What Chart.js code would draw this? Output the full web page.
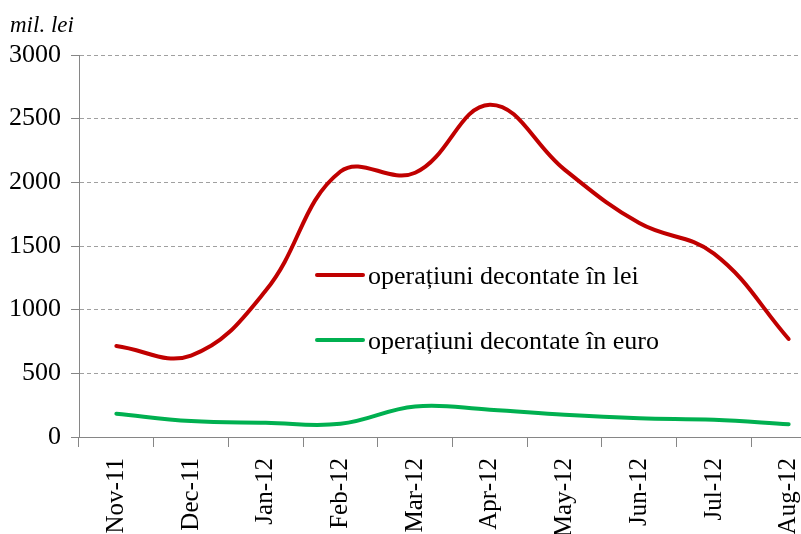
<!DOCTYPE html>
<html>
<head>
<meta charset="utf-8">
<script src="https://cdn.jsdelivr.net/npm/chart.js@4"></script>
<style>
  html, body { margin: 0; padding: 0; background: #fff; overflow: hidden; }
  #wrap { width: 830px; height: 534px; }
</style>
</head>
<body>
<div id="wrap"><canvas id="myChart" width="830" height="534"></canvas></div>
<script>
const ctx = document.getElementById('myChart');

// luni
const labels = ['Nov-11', 'Dec-11', 'Jan-12', 'Feb-12', 'Mar-12', 'Apr-12', 'May-12', 'Jun-12', 'Jul-12', 'Aug-12'];
// mil. lei
const lei = [715, 640, 1150, 2085, 2075, 2610, 2100, 1680, 1440, 770];
const euro = [183, 125, 112, 104, 240, 214, 175, 148, 135, 101];
const seriesNames = ['operațiuni decontate în lei', 'operațiuni decontate în euro'];
const yTicks = [0, 500, 1000, 1500, 2000, 2500, 3000];

const serif = 'Liberation Serif, Times New Roman, serif';

// legenda desenata in interiorul graficului
const insideLegend = {
    id: 'insideLegend',
    afterDraw(chart) {
        const c = chart.ctx;
        const ds = chart.data.datasets;
        const x0 = chart.chartArea.left + 238;
        const y0 = chart.chartArea.top + 220;
        c.save();
        c.font = '26px ' + serif;
        c.textBaseline = 'middle';
        c.textAlign = 'left';
        ds.forEach((d, i) => {
            const y = y0 + i * 65;
            c.strokeStyle = d.borderColor;
            c.lineWidth = 4;
            c.lineCap = 'round';
            c.beginPath();
            c.moveTo(x0, y);
            c.lineTo(x0 + 46, y);
            c.stroke();
            c.fillStyle = '#000';
            c.fillText(d.label, x0 + 51, y + 2);
        });
        c.restore();
    }
};

const data = {
    labels,
    datasets: [{
        label: seriesNames[0],
        data: lei,
        borderColor: '#c00000',
        backgroundColor: '#c00000',
        borderWidth: 4,
        tension: 0.4,
        pointRadius: 0,
        borderCapStyle: 'round'
    }, {
        label: seriesNames[1],
        data: euro,
        borderColor: '#00b050',
        backgroundColor: '#00b050',
        borderWidth: 4,
        tension: 0.4,
        pointRadius: 0,
        borderCapStyle: 'round'
    }]
};

const config = {
    type: 'line',
    data: data,
    options: {
        responsive: false,
        animation: false,
        layout: { padding: { left: 10, right: 4, top: 0, bottom: 0 } },
        plugins: {
            legend: { display: false },
            tooltip: { enabled: false },
            title: {
                display: true,
                text: 'mil. lei',
                align: 'start',
                color: '#000',
                font: { family: serif, size: 23, style: 'italic', weight: 'normal', lineHeight: 1.2 },
                padding: { top: 12, bottom: 15.4 }
            }
        },
        scales: {
            x: {
                offset: true,
                grid: {
                    offset: true,
                    drawOnChartArea: false,
                    drawTicks: true,
                    tickLength: 10,
                    tickColor: '#868686',
                    tickWidth: 1
                },
                border: { color: '#868686', width: 1 },
                ticks: {
                    color: '#000',
                    font: { family: serif, size: 25 },
                    minRotation: 90,
                    maxRotation: 90,
                    padding: 11,
                    autoSkip: false
                },
                afterFit(scale) { scale.height = 97; }
            },
            y: {
                min: 0,
                max: 3000,
                afterBuildTicks(scale) { scale.ticks = yTicks.map(v => ({ value: v })); },
                grid: {
                    color: '#a0a0a0',
                    lineWidth: 1,
                    drawTicks: true,
                    tickLength: 8,
                    tickColor: '#868686',
                    tickBorderDash: []
                },
                border: { color: '#868686', width: 1, dash: [4, 3] },
                ticks: {
                    color: '#000',
                    font: { family: serif, size: 26 },
                    padding: 10,
                    callback: (v) => String(v)
                },
                afterFit(scale) { scale.width = 69; }
            }
        }
    },
    plugins: [insideLegend]
};

const myChart = new Chart(ctx, config);
</script>
</body>
</html>
